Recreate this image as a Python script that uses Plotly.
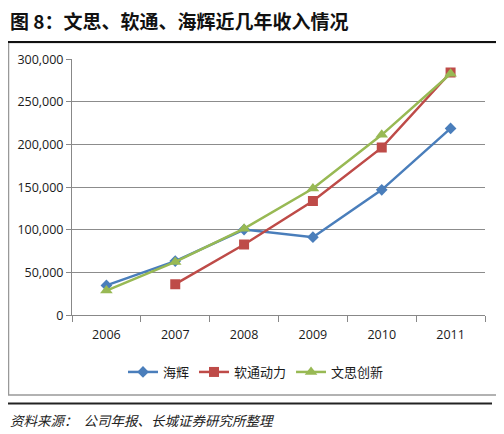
import plotly.graph_objects as go

# 收入（万元），按图读数估计
years = ["2006", "2007", "2008", "2009", "2010", "2011"]
haihui = [35000, 63500, 100500, 91500, 147000, 219000]
ruantong = [None, 36500, 83000, 134000, 196500, 284500]
wensi = [29000, 62500, 101500, 148500, 211500, 283000]

# 页面 body 有 8px 边距，图按窗口剩余部分来画
OFF = 8
W, H = 504 - OFF, 434 - OFF


def px(x):
    # 窗口像素 -> paper 坐标
    return (x - OFF) / W


def py(y):
    return 1 - (y - OFF) / H


fig = go.Figure()

series = [
    ("海辉", haihui, "#4A7EBB", "diamond", 9),
    ("软通动力", ruantong, "#BE4B48", "square", 10),
    ("文思创新", wensi, "#98B954", "triangle-up", 11),
]
for name, vals, color, symbol, size in series:
    fig.add_trace(go.Scatter(
        x=years, y=vals, name=name, mode="lines+markers",
        line=dict(color=color, width=2.5),
        marker=dict(symbol=symbol, size=size, color=color),
        connectgaps=False,
    ))

fig.update_layout(
    width=W, height=H,
    margin=dict(l=0, r=0, t=0, b=0, pad=0, autoexpand=False),
    paper_bgcolor="white", plot_bgcolor="white",
    font=dict(family="Open Sans, Noto Sans CJK SC", size=12, color="#222"),
    showlegend=True,
    legend=dict(orientation="h", x=px(256), xanchor="center", y=py(372), yanchor="middle",
                font=dict(family="Noto Sans CJK SC", size=13, color="#1a1a1a"),
                itemwidth=30, tracegroupgap=0),
    xaxis=dict(domain=[px(72), px(485)], type="category", automargin=False,
               showgrid=False, showline=True, linecolor="#888", linewidth=1,
               ticks="outside", ticklen=6, tickcolor="#888", tickson="boundaries",
               ticklabelstandoff=8,
               tickfont=dict(size=12.5, color="#1a1a1a"), range=[-0.5, 5.5]),
    yaxis=dict(domain=[py(315.3), py(59.3)], range=[0, 300000], dtick=50000,
               automargin=False,
               tickformat=",d", showgrid=True, gridcolor="#8c8c8c", gridwidth=1,
               showline=True, linecolor="#888", linewidth=1,
               ticks="outside", ticklen=5, tickcolor="#888",
               tickfont=dict(size=12.5, color="#1a1a1a"), zeroline=False),
    shapes=[
        # 图表边框
        dict(type="rect", xref="paper", yref="paper",
             x0=px(8.5), x1=px(499), y0=py(395), y1=py(42.5),
             line=dict(color="#999", width=1.5)),
        # 上下粗线
        dict(type="line", xref="paper", yref="paper",
             x0=0, x1=px(500), y0=py(42), y1=py(42),
             line=dict(color="#111", width=2)),
        dict(type="line", xref="paper", yref="paper",
             x0=0, x1=px(492), y0=py(403.5), y1=py(403.5),
             line=dict(color="#222", width=2)),
    ],
    annotations=[
        dict(text="<b>图 8：文思、软通、海辉近几年收入情况</b>", xref="paper", yref="paper",
             x=0, y=py(21), xanchor="left", yanchor="middle", showarrow=False,
             font=dict(family="Noto Sans CJK SC", size=19, color="#111")),
        dict(text="<i>资料来源：  公司年报、长城证券研究所整理</i>", xref="paper", yref="paper",
             x=0, y=py(420), xanchor="left", yanchor="middle", showarrow=False,
             font=dict(family="Noto Sans CJK SC", size=13.5, color="#222")),
    ],
)

fig.write_html("out.html")
